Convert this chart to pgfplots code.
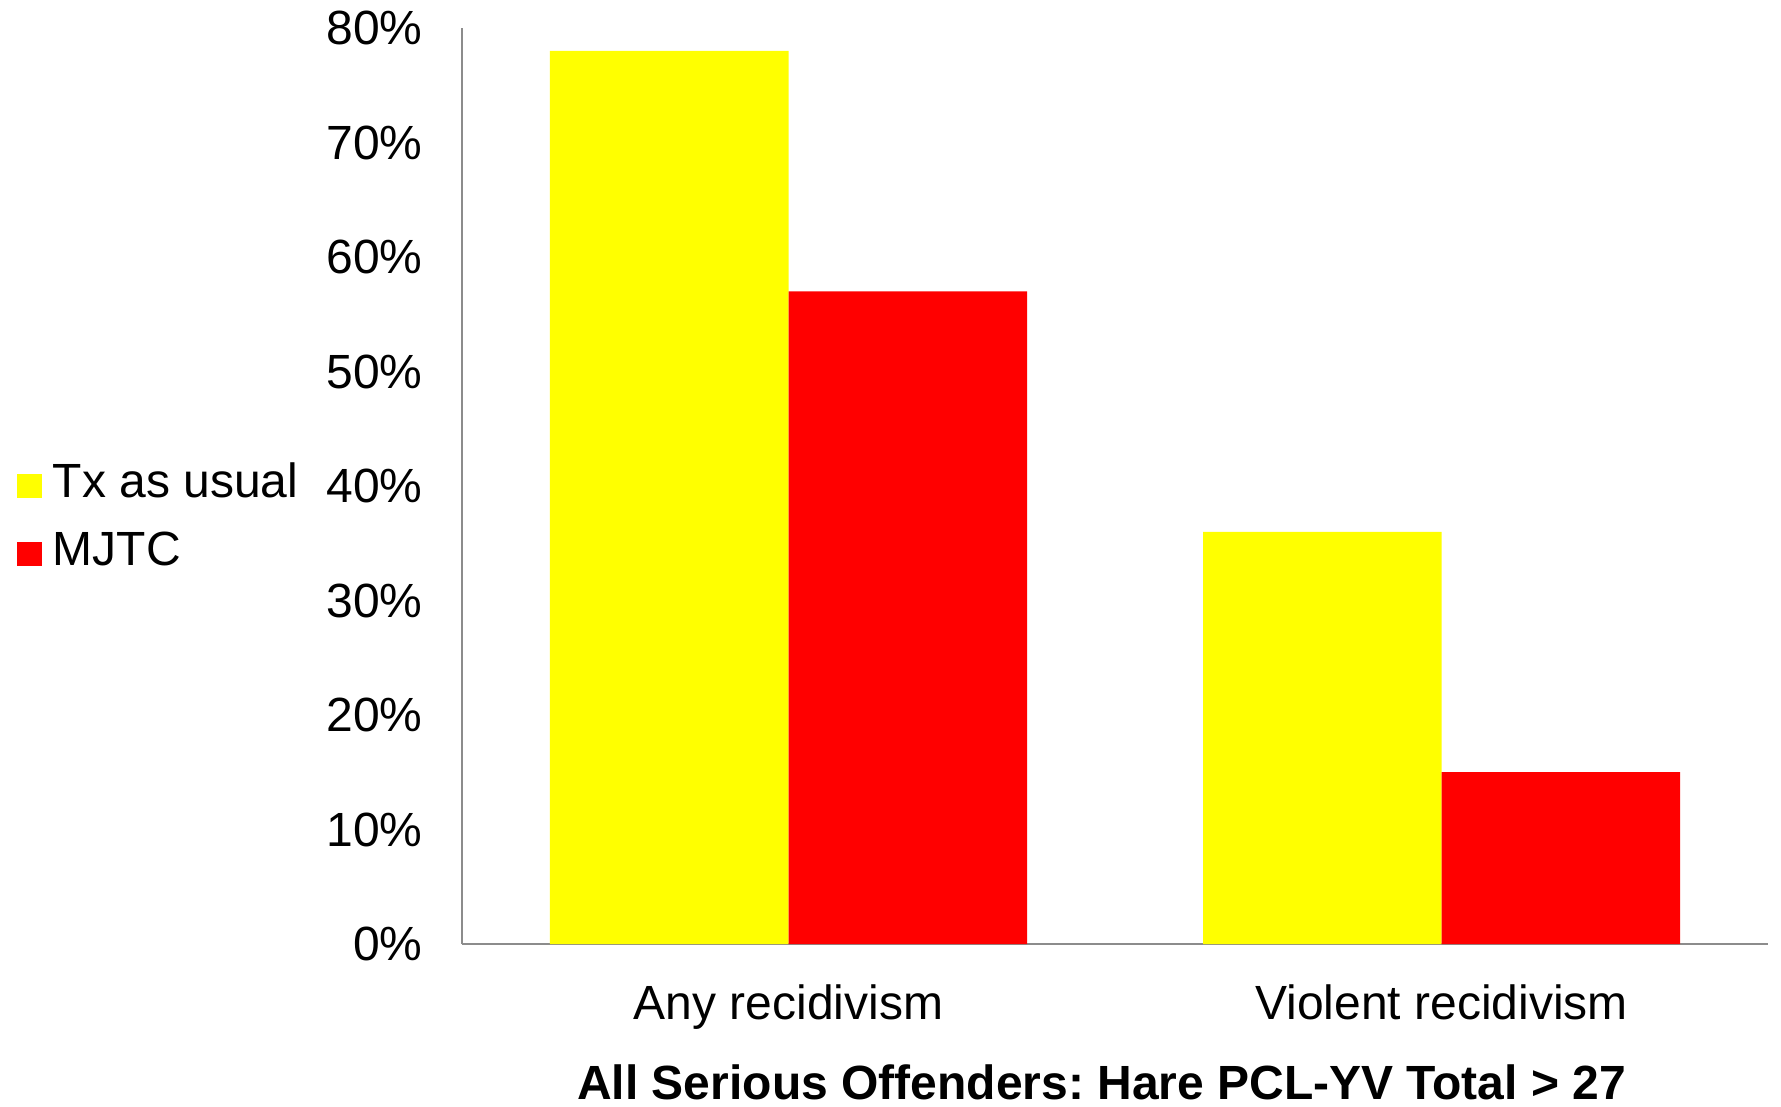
\documentclass[border=0pt]{standalone}
\usepackage{pgfplots}
\pgfplotsset{compat=1.18}
\usepackage{fontspec}
\setmainfont{Liberation Sans}
\definecolor{axgray}{HTML}{8C8C8C}
\definecolor{bary}{HTML}{FFFF00}
\definecolor{barr}{HTML}{FF0000}
\frenchspacing
\begin{document}
\frenchspacing
\begin{tikzpicture}
\begin{axis}[
  at={(0,0)}, anchor=south west,
  scale only axis, width=653pt, height=458pt,
  ymin=0, ymax=80, xmin=-0.5, xmax=1.5,
  ybar=0pt, bar width=119.25pt,
  axis x line*=bottom, axis y line*=left,
  axis line style={axgray, line width=0.7pt, -},
  xtick={0,1}, xticklabels={Any recidivism, Violent recidivism},
  ytick={0,10,...,80},
  yticklabel={\pgfmathprintnumber{\tick}\%},
  major tick length=0pt,
  tick style={draw=none},
  /pgf/number format/assume math mode=true,
  ticklabel style={font=\fontsize{24}{28}\selectfont, inner sep=0pt},
  yticklabel style={xshift=-19.5pt},
  xticklabel style={yshift=-20pt, anchor=north},
  xlabel={All Serious Offenders: Hare PCL-YV Total > 27},
  xlabel style={at={(axis description cs:0.4898,0)}, anchor=north, yshift=-60pt, inner sep=0pt, font=\fontsize{24}{28}\selectfont\bfseries\frenchspacing},
  legend style={at={(axis description cs:-0.3407,0.4633)}, anchor=west, draw=none, fill=none,
    font=\fontsize{24}{28}\selectfont, inner sep=0pt,
    nodes={inner sep=0pt, text height=17pt, text depth=5pt},
    row sep=12pt, /tikz/every odd column/.append style={column sep=5.5pt}},
  legend image code/.code={\fill[#1] (0pt,-6pt) rectangle (12.25pt,6pt);},
  legend cell align=left,
]
\addplot[fill=bary, draw=none] coordinates {(0,78) (1,36)};
\addlegendentry{Tx as usual}
\addplot[fill=barr, draw=none] coordinates {(0,57) (1,15)};
\addlegendentry{MJTC}
\end{axis}
\pgfresetboundingbox
\useasboundingbox (-231pt,-81.5pt) rectangle (659.5pt,472pt);
\end{tikzpicture}
\end{document}
